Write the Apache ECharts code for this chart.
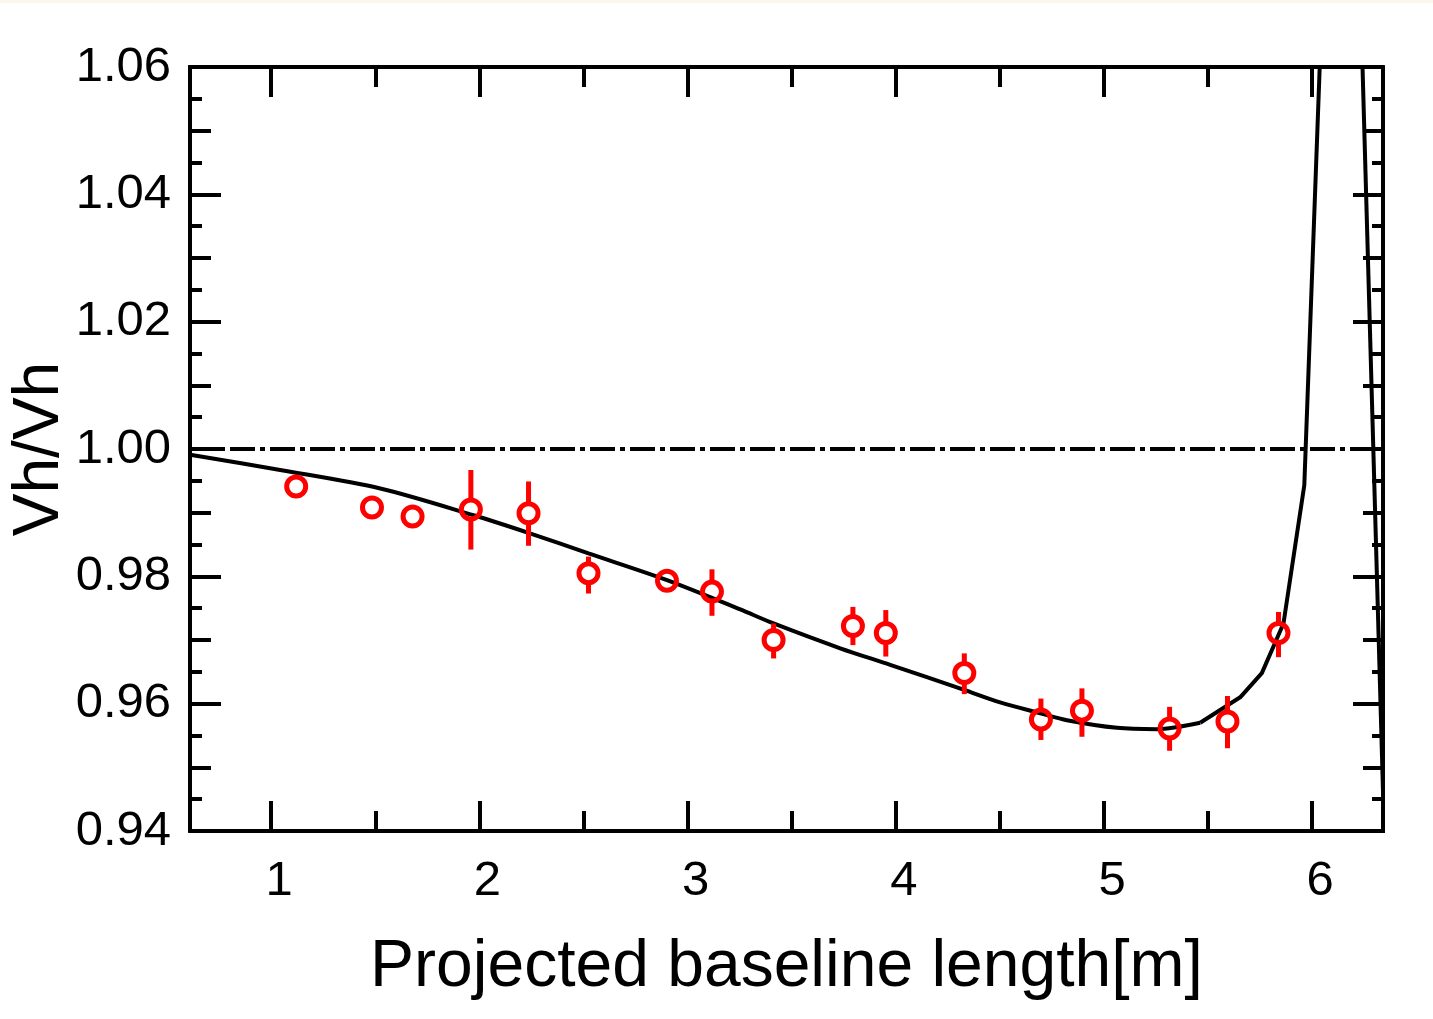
<!DOCTYPE html>
<html>
<head>
<meta charset="utf-8">
<script src="https://cdn.jsdelivr.net/npm/echarts@6/dist/echarts.min.js"></script>
<style>
html,body{margin:0;padding:0;background:#fff;}
#strip{position:absolute;left:0;top:0;width:1433px;height:3px;background:#fcf7ea;z-index:2;}
#chart{position:absolute;left:0;top:0;width:1433px;height:1019px;}
</style>
</head>
<body>
<div id="strip"></div>
<div id="chart"></div>
<script>
// ---- axis ranges & ticks ----
const X_MIN = 0.61, X_MAX = 6.34;
const Y_MIN = 0.94, Y_MAX = 1.06;
const xMajorTicks = [1, 2, 3, 4, 5, 6];
const xMinorTicks = [1.5, 2.5, 3.5, 4.5, 5.5];
const yMajorTicks = [0.94, 0.96, 0.98, 1.00, 1.02, 1.04, 1.06];
const yMidTicks = [0.95, 0.97, 0.99, 1.01, 1.03, 1.05];
const yMinorTicks = [0.945, 0.955, 0.965, 0.975, 0.985, 0.995, 1.005, 1.015, 1.025, 1.035, 1.045, 1.055];

// ---- measured points (red) ----
const ptX  = [1.120, 1.484, 1.679, 1.959, 2.236, 2.524, 2.901, 3.117, 3.413, 3.794, 3.952, 4.329, 4.697, 4.894, 5.315, 5.593, 5.838];
const ptY  = [0.9941, 0.9908, 0.9894, 0.9905, 0.9899, 0.9805, 0.9793, 0.9776, 0.9700, 0.9722, 0.9711, 0.9648, 0.9575, 0.9589, 0.9561, 0.9572, 0.9711];
const ptHi = [0.9941, 0.9908, 0.9894, 0.9967, 0.9949, 0.9831, 0.9800, 0.9811, 0.9726, 0.9752, 0.9747, 0.9679, 0.9608, 0.9624, 0.9595, 0.9612, 0.9744];
const ptLo = [0.9941, 0.9908, 0.9894, 0.9842, 0.9848, 0.9773, 0.9786, 0.9738, 0.9671, 0.9692, 0.9674, 0.9615, 0.9543, 0.9548, 0.9526, 0.9530, 0.9673];

// ---- model curve (black): smooth part, then polyline part ----
const curveX = [0.611, 1.043, 1.524, 1.972, 2.239, 2.524, 2.901, 3.253, 3.413, 3.733, 3.973, 4.325, 4.501, 4.694, 4.822, 5.062, 5.254, 5.462];
const curveY = [0.9991, 0.9967, 0.9938, 0.9896, 0.9868, 0.9836, 0.9794, 0.9748, 0.9726, 0.9687, 0.9661, 0.9622, 0.9602, 0.9585, 0.9574, 0.9562, 0.9560, 0.9570];
const curveTailX = [5.462, 5.654, 5.758, 5.862, 5.962, 6.036, 6.047];
const curveTailY = [0.9570, 0.9610, 0.9648, 0.9726, 0.9943, 1.0600, 1.0700];
const curve2X = [6.233, 6.354];
const curve2Y = [1.07, 0.93];

// ---- reference line ----
const refY = 1.00;

const zip = (a, b) => a.map((v, i) => [v, b[i]]);
const FONT = '"Liberation Sans", Arial, Helvetica, sans-serif';
const AXIS_W = 4;
const TICK_W = 4;
const LINE_W = 4;

function xAxisDef(pos, ticks, len, labels) {
  return {
    type: 'value', position: pos, min: X_MIN, max: X_MAX, gridIndex: 0,
    axisLine: { show: true, onZero: false, lineStyle: { color: '#000', width: AXIS_W } },
    axisTick: { show: true, inside: true, length: len, customValues: ticks, lineStyle: { color: '#000', width: TICK_W } },
    axisLabel: labels ? {
      show: true, customValues: ticks, fontSize: 49, color: '#000', fontFamily: FONT,
      margin: 26, padding: [0, 0, 0, 16], formatter: v => String(v)
    } : { show: false },
    splitLine: { show: false }
  };
}
function yAxisDef(pos, ticks, len, labels) {
  return {
    type: 'value', position: pos, min: Y_MIN, max: Y_MAX, gridIndex: 0,
    axisLine: { show: true, onZero: false, lineStyle: { color: '#000', width: AXIS_W } },
    axisTick: { show: true, inside: true, length: len, customValues: ticks, lineStyle: { color: '#000', width: TICK_W } },
    axisLabel: labels ? {
      show: true, customValues: ticks, fontSize: 49, color: '#000', fontFamily: FONT,
      margin: 19, formatter: v => Number(v).toFixed(2)
    } : { show: false },
    splitLine: { show: false }
  };
}

const xAxes = [
  Object.assign(xAxisDef('bottom', xMajorTicks, 30, true), {
    name: 'Projected baseline length[m]', nameLocation: 'middle', nameGap: 104,
    nameMoveOverlap: false,
    nameTextStyle: { fontSize: 66, color: '#000', fontFamily: FONT }
  }),
  xAxisDef('bottom', xMinorTicks, 20, false),
  xAxisDef('top', xMajorTicks, 30, false),
  xAxisDef('top', xMinorTicks, 20, false)
];
const yAxes = [
  Object.assign(yAxisDef('left', yMajorTicks, 31, true), {
    name: 'Vh/Vh', nameLocation: 'middle', nameGap: 118,
    nameMoveOverlap: false,
    nameTextStyle: { fontSize: 64, color: '#000', fontFamily: FONT }
  }),
  yAxisDef('left', yMidTicks, 21, false),
  yAxisDef('left', yMinorTicks, 12, false),
  yAxisDef('right', yMajorTicks, 30, false),
  yAxisDef('right', yMidTicks, 20, false),
  yAxisDef('right', yMinorTicks, 11, false)
];

const errData = ptX.map((x, i) => [x, ptLo[i], ptHi[i], ptY[i]]);
const R = 10;

const option = {
  animation: false,
  backgroundColor: '#fff',
  grid: { left: 190, right: 50, top: 67, bottom: 188, containLabel: false, outerBoundsMode: 'none' },
  xAxis: xAxes,
  yAxis: yAxes,
  series: [
    {
      type: 'line', xAxisIndex: 0, yAxisIndex: 0, z: 2,
      data: [[X_MIN, refY], [X_MAX, refY]],
      showSymbol: false, symbol: 'none',
      lineStyle: { color: '#000', width: LINE_W, type: [25, 5, 5, 5], cap: 'butt' }
    },
    {
      type: 'line', xAxisIndex: 0, yAxisIndex: 0, z: 3, clip: true,
      data: zip(curveX, curveY), symbol: 'none', smooth: 0.3,
      lineStyle: { color: '#000', width: LINE_W }
    },
    {
      type: 'line', xAxisIndex: 0, yAxisIndex: 0, z: 3, clip: true,
      data: zip(curveTailX, curveTailY), symbol: 'none',
      lineStyle: { color: '#000', width: LINE_W, join: 'round' }
    },
    {
      type: 'line', xAxisIndex: 0, yAxisIndex: 0, z: 3, clip: true,
      data: zip(curve2X, curve2Y), symbol: 'none',
      lineStyle: { color: '#000', width: LINE_W }
    },
    {
      type: 'custom', xAxisIndex: 0, yAxisIndex: 0, z: 4, clip: true,
      data: errData,
      encode: { x: 0, y: [1, 2, 3] },
      renderItem: function (params, api) {
        const x = api.value(0), lo = api.value(1), hi = api.value(2), y = api.value(3);
        const c = api.coord([x, y]);
        const t = api.coord([x, hi]);
        const b = api.coord([x, lo]);
        const children = [];
        const st = { stroke: '#ff0000', lineWidth: 5 };
        if (c[1] - t[1] > R) children.push({ type: 'line', shape: { x1: c[0], y1: t[1], x2: c[0], y2: c[1] - R + 2 }, style: st });
        if (b[1] - c[1] > R) children.push({ type: 'line', shape: { x1: c[0], y1: c[1] + R - 2, x2: c[0], y2: b[1] }, style: st });
        return { type: 'group', children: children };
      }
    },
    {
      type: 'scatter', xAxisIndex: 0, yAxisIndex: 0, z: 5,
      data: zip(ptX, ptY),
      symbol: 'circle', symbolSize: 19,
      itemStyle: { color: 'rgba(0,0,0,0)', borderColor: '#ff0000', borderWidth: 5, opacity: 1 }
    }
  ]
};

const chart = echarts.init(document.getElementById('chart'), null, { renderer: 'canvas' });
chart.setOption(option);
</script>
</body>
</html>
